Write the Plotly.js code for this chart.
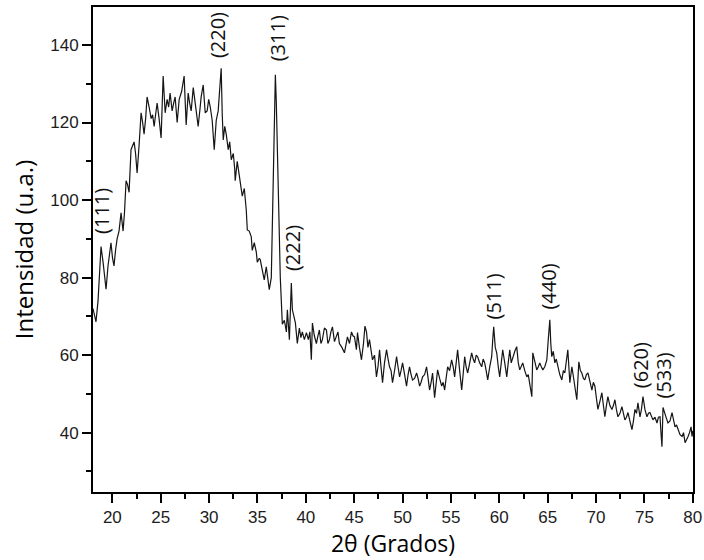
<!DOCTYPE html>
<html>
<head>
<meta charset="utf-8">
<script src="https://cdn.plot.ly/plotly-3.0.1.min.js"></script>
<style>html,body{margin:0;padding:0;background:#fff;}#chart{width:704px;height:560px;}</style>
</head>
<body>
<div id="chart"></div>
<script>
// 2θ (degrees)
const twoTheta = [
18.00,18.16,18.31,18.52,18.67,18.83,19.04,19.19,19.35,19.55,19.71,19.86,20.02,20.17,20.33,20.49,20.69,20.90,21.11,21.26,
21.42,21.57,21.73,21.93,22.09,22.25,22.40,22.56,22.76,22.97,23.13,23.28,23.44,23.59,23.80,24.01,24.16,24.32,24.47,24.63,
24.83,25.04,25.25,25.46,25.66,25.82,25.97,26.18,26.34,26.49,26.70,26.91,27.16,27.42,27.63,27.84,27.99,28.15,28.36,28.51,
28.67,28.87,29.08,29.18,29.39,29.60,29.80,29.96,30.12,30.32,30.53,30.74,30.94,31.10,31.25,31.36,31.46,31.62,31.77,31.98,
32.13,32.29,32.50,32.65,32.70,32.91,33.12,33.27,33.43,33.64,33.84,33.95,34.15,34.36,34.46,34.67,34.88,34.98,35.19,35.29,
35.50,35.70,35.91,36.02,36.22,36.43,36.53,36.69,36.85,36.95,37.05,37.21,37.36,37.57,37.78,37.99,38.09,38.30,38.50,38.61,
38.76,38.92,39.12,39.33,39.49,39.64,39.85,40.06,40.26,40.42,40.57,40.68,40.88,41.09,41.25,41.40,41.56,41.71,41.92,42.13,
42.28,42.44,42.59,42.75,42.96,43.16,43.32,43.47,43.73,43.99,44.15,44.30,44.51,44.72,44.87,45.03,45.23,45.34,45.54,45.75,
45.96,46.11,46.27,46.42,46.58,46.73,46.89,47.10,47.30,47.46,47.62,47.77,47.93,48.13,48.34,48.50,48.65,48.81,48.96,49.17,
49.38,49.53,49.69,49.84,50.00,50.21,50.41,50.57,50.72,50.88,51.03,51.24,51.45,51.60,51.76,51.91,52.07,52.28,52.48,52.64,
52.79,52.95,53.10,53.31,53.47,53.62,53.83,54.04,54.19,54.35,54.50,54.66,54.86,55.07,55.23,55.38,55.54,55.69,55.90,56.11,
56.26,56.42,56.57,56.73,56.94,57.14,57.30,57.45,57.61,57.76,57.97,58.18,58.33,58.49,58.64,58.80,59.01,59.21,59.32,59.42,
59.58,59.73,59.89,60.04,60.20,60.35,60.56,60.77,60.92,61.08,61.23,61.39,61.60,61.80,61.96,62.11,62.27,62.42,62.63,62.84,
62.99,63.15,63.36,63.46,63.67,63.87,64.03,64.18,64.34,64.50,64.70,64.91,65.06,65.22,65.32,65.42,65.58,65.74,65.89,66.05,
66.25,66.46,66.62,66.77,66.93,67.08,67.29,67.50,67.60,67.81,68.01,68.22,68.38,68.53,68.69,68.84,69.00,69.16,69.36,69.57,
69.72,69.88,70.03,70.19,70.39,70.60,70.76,70.91,71.07,71.22,71.43,71.64,71.79,71.95,72.10,72.26,72.47,72.67,72.83,72.98,
73.14,73.30,73.50,73.71,73.86,74.02,74.18,74.33,74.54,74.69,74.85,75.05,75.26,75.42,75.57,75.73,75.88,76.09,76.30,76.45,
76.61,76.71,76.81,76.92,77.07,77.23,77.43,77.64,77.85,78.00,78.16,78.32,78.47,78.68,78.89,79.04,79.20,79.35,79.51,79.66,
79.82,79.92,80.00
];
// Intensidad (u.a.)
const intensity = [
72,70,68.6,74,80.7,88,84,80,77,83,86,89,85,83,87,90,92,96.7,92,97,
105,104,102,113,114,115,112,107,114,122.5,120,117,121,126.6,124,121,122,119,122,125,
121,116,132,122.5,126,124,127.6,123,125,126.6,120,126,128,132,119.4,127.6,125,123,129,126,
124,119,124,126.6,129.7,122.5,123,126,124,120.6,113,120.6,123,128,134,122,115.5,119,117,113,
115,110.4,112,108,105,110,106.5,104,101,103,97.5,92.3,92,90.5,87,89,86.6,84,85,84.6,
82,79.4,82.8,81,76.9,80,91.5,115,132.3,125,113,100,80,68,69,66,71.7,64,78.6,71.7,
70,68.3,63,67,64.5,66,64,65.8,64,66,58.8,68.3,65,63,65,66.5,63,64,67,66.5,
63,64,66,67.3,63.5,64.7,66,63,62,60.6,63,64.7,63,66,65,64.7,61.4,65.8,62,58.8,
63,67.5,66,62,64,61,58.8,60,54.4,57,61.4,57,52.9,58,61.4,59,57,56,52.9,56,
59.6,57,54.4,56,58,55,52,55,57,55,53.6,54,55.4,54,52,53,54.4,55,57,54,
51,53,55.4,49,52,56.2,54,52,53,51,54,57,56,58.8,57,54.4,58,61.4,56,51,
55,59.6,57,55.4,58,60.6,59,58,60,59.6,58,57,59,58,56,53.6,57,59.6,64,67.3,
62,60.6,57,54.4,58,61.4,58,54.4,58,61.4,58,59.6,61,62.2,58,56.2,57,58,56,54.4,
55,52.9,49.3,60.6,58,56.2,57,58,57,56.2,57,58.8,64,69.1,63,59.6,61,58,59,57,
55,53.6,56,55.4,58,61.4,52.9,57,55.4,52,48.5,58.3,56,55.4,54,53.6,55,55.4,53,51,
53,52,49,46,48,50.3,47,44.1,47,49.3,47,46,47,48.5,46,44.1,45,46.7,45,43.3,
44,45.2,43,40.8,43,46,45,47.7,44.1,46,49.3,46,44.1,45,45.2,44,43.3,44,42.5,44,
44.1,40,36.4,46.5,45,44,42.5,43,45.2,43,41.5,42,40.8,39.5,39,40,37.4,38,39,40,
41.5,39,40.5
];
// Peak labels (Miller indices) and where they are written
const peakLabels = ['(111)','(220)','(311)','(222)','(511)','(440)','(620)','(533)'];
const peakLabelX = [18.93,30.94,37.05,38.60,59.40,65.10,74.60,77.00];
const peakLabelY = [97.2,142.6,141.8,87.7,75.0,77.6,57.3,54.7];

const tickFont = {family: 'Liberation Sans, Arial, sans-serif', size: 17, color: '#1c1c1c'};

const trace = {
  x: twoTheta, y: intensity, type: 'scatter', mode: 'lines',
  line: {color: '#151515', width: 1.2},
  showlegend: false, hoverinfo: 'x+y'
};

const annotations = peakLabels.map((t, i) => ({
  text: t, x: peakLabelX[i], y: peakLabelY[i], xref: 'x', yref: 'y',
  showarrow: false, textangle: -90, xanchor: 'center', yanchor: 'middle',
  font: {family: 'Open Sans, Noto Sans, sans-serif', size: 20, color: '#111'}
}));

const layout = {
  width: 704, height: 560,
  margin: {l: 93, r: 11, t: 7, b: 68, pad: 0},
  paper_bgcolor: '#fff', plot_bgcolor: '#fff',
  showlegend: false,
  xaxis: {
    range: [18, 80.02], tick0: 0, dtick: 5,
    showline: true, linecolor: '#000', linewidth: 2, mirror: true,
    ticks: 'outside', ticklen: 9, tickwidth: 2, tickcolor: '#000',
    minor: {dtick: 2.5, ticks: 'outside', ticklen: 5, tickwidth: 2, tickcolor: '#000', showgrid: false},
    showgrid: false, zeroline: false, tickfont: tickFont, ticklabeloverflow: 'allow',
    title: {text: '2θ (Grados)', font: {family: 'Open Sans, Noto Sans, sans-serif', size: 23, color: '#000'}, standoff: 6}
  },
  yaxis: {
    range: [24.7, 149.8], tick0: 0, dtick: 20,
    showline: true, linecolor: '#000', linewidth: 2, mirror: true,
    ticks: 'outside', ticklen: 9, tickwidth: 2, tickcolor: '#000',
    minor: {dtick: 10, ticks: 'outside', ticklen: 5, tickwidth: 2, tickcolor: '#000', showgrid: false},
    showgrid: false, zeroline: false, tickfont: tickFont,
    title: {text: 'Intensidad (u.a.)', font: {family: 'Open Sans, Noto Sans, sans-serif', size: 24, color: '#000'}, standoff: 10}
  },
  annotations: annotations
};

Plotly.newPlot('chart', [trace], layout, {displayModeBar: false, staticPlot: true});
</script>
</body>
</html>
